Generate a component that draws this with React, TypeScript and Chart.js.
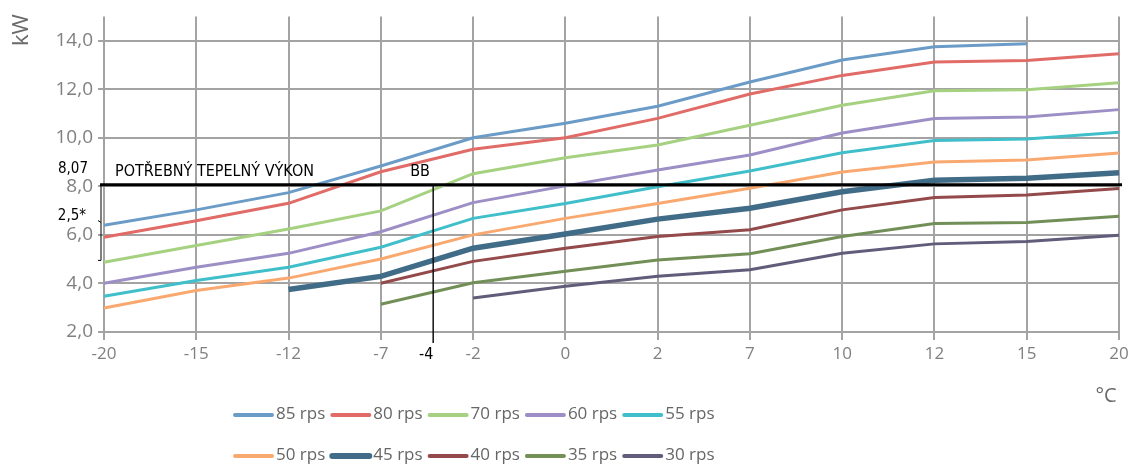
import { useEffect, useRef } from 'react';
import { Chart, registerables } from 'chart.js';
Chart.register(...registerables);

const temperatures = ['-20', '-15', '-12', '-7', '-2', '0', '2', '7', '10', '12', '15', '20'];
const tempValues = [-20, -15, -12, -7, -2, 0, 2, 7, 10, 12, 15, 20];

const rps85 = [6.4, 7.03, 7.74, 8.84, 10.0, 10.6, 11.3, 12.3, 13.2, 13.75, 13.87, null];
const rps80 = [5.9, 6.58, 7.3, 8.6, 9.53, 10.0, 10.8, 11.8, 12.57, 13.12, 13.18, 13.46];
const rps70 = [4.87, 5.56, 6.24, 6.99, 8.52, 9.18, 9.7, 10.52, 11.34, 11.94, 11.98, 12.27];
const rps60 = [4.01, 4.67, 5.24, 6.13, 7.33, 8.02, 8.67, 9.29, 10.2, 10.79, 10.86, 11.16];
const rps55 = [3.47, 4.12, 4.67, 5.49, 6.68, 7.29, 7.98, 8.63, 9.38, 9.89, 9.95, 10.23];
const rps50 = [2.99, 3.71, 4.22, 5.01, 6.0, 6.68, 7.29, 7.92, 8.59, 9.0, 9.08, 9.37];
const rps45 = [null, null, 3.75, 4.29, 5.45, 6.04, 6.65, 7.1, 7.78, 8.25, 8.33, 8.56];
const rps40 = [null, null, null, 4.01, 4.91, 5.45, 5.93, 6.21, 7.03, 7.54, 7.64, 7.91];
const rps35 = [null, null, null, 3.14, 4.03, 4.5, 4.97, 5.22, 5.93, 6.47, 6.51, 6.77];
const rps30 = [null, null, null, null, 3.4, 3.88, 4.3, 4.56, 5.24, 5.63, 5.73, 5.99];

const seriesNames = ['85 rps', '80 rps', '70 rps', '60 rps', '55 rps', '50 rps', '45 rps', '40 rps', '35 rps', '30 rps'];
const seriesData = [rps85, rps80, rps70, rps60, rps55, rps50, rps45, rps40, rps35, rps30];
const seriesColors = ['#6b9bc7', '#e06b67', '#a6d181', '#9d8fc6', '#40bfcb', '#f9a96f', '#416c87', '#94494a', '#728f58', '#615c7a'];
const seriesWidths = [3, 3, 3, 3, 3, 3, 5.5, 3, 3, 3];

const yTicks = [2, 4, 6, 8, 10, 12, 14];
const REQUIRED_KW = 8.07;
const REQUIRED_LABEL = 'POTŘEBNÝ TEPELNÝ VÝKON';
const BB_TEMP = -4;
const BRACKET_LOW = 4.95;

function bbIndex() {
  for (let i = 0; i < tempValues.length - 1; i++) {
    if (BB_TEMP >= tempValues[i] && BB_TEMP <= tempValues[i + 1]) {
      return i + (BB_TEMP - tempValues[i]) / (tempValues[i + 1] - tempValues[i]);
    }
  }
  return 0;
}

const annotPlugin = {
  id: 'annot',
  afterDatasetsDraw(chart: any) {
    const { ctx, chartArea, scales } = chart;
    const x = scales.x;
    const y = scales.y;
    ctx.save();
    const yReq = y.getPixelForValue(REQUIRED_KW);
    const xBB = x.getPixelForValue(bbIndex()) - 3;
    ctx.strokeStyle = '#111';
    ctx.lineWidth = 1.5;
    ctx.beginPath();
    ctx.moveTo(xBB, yReq);
    ctx.lineTo(xBB, chartArea.bottom + 11);
    ctx.stroke();
    ctx.strokeStyle = '#000';
    ctx.lineWidth = 3;
    ctx.beginPath();
    ctx.moveTo(chartArea.left - 4, yReq);
    ctx.lineTo(chartArea.right + 3, yReq);
    ctx.stroke();
    const yLow = y.getPixelForValue(BRACKET_LOW);
    const xb = chartArea.left - 3;
    ctx.lineWidth = 1;
    ctx.beginPath();
    ctx.moveTo(xb, yReq);
    ctx.lineTo(xb, yLow);
    ctx.lineTo(xb - 3, yLow);
    ctx.moveTo(xb, (yReq + yLow) / 2);
    ctx.lineTo(xb - 3, (yReq + yLow) / 2 - 2);
    ctx.stroke();
    ctx.fillStyle = '#000';
    ctx.textBaseline = 'middle';
    ctx.font = '16px "DejaVu Sans Condensed", "DejaVu Sans"';
    ctx.textAlign = 'left';
    ctx.fillText(REQUIRED_LABEL, chartArea.left + 11, yReq - 13);
    ctx.fillText('BB', xBB - 23, yReq - 13);
    ctx.textAlign = 'right';
    ctx.font = '15px "DejaVu Sans Condensed", "DejaVu Sans"';
    ctx.fillText(String(REQUIRED_KW).replace('.', ','), 88, yReq - 16);
    ctx.fillText('2,5*', 86, (yReq + yLow) / 2 - 6);
    ctx.textAlign = 'center';
    ctx.font = '16px "DejaVu Sans Condensed", "DejaVu Sans"';
    ctx.fillText(String(BB_TEMP), xBB - 7, chartArea.bottom + 23);
    ctx.restore();
  },
  afterDraw(chart: any) {
    const { ctx, chartArea } = chart;
    ctx.save();
    ctx.fillStyle = '#6a6a6a';
    ctx.textBaseline = 'middle';
    ctx.font = '22px "Open Sans"';
    ctx.save();
    ctx.translate(22, 30);
    ctx.rotate(-Math.PI / 2);
    ctx.textAlign = 'center';
    ctx.fillText('kW', 0, 0);
    ctx.restore();
    ctx.font = '20px "Open Sans"';
    ctx.textAlign = 'center';
    ctx.fillText('°C', chartArea.right - 13, 396);
    ctx.font = '17px "Open Sans"';
    ctx.textAlign = 'left';
    for (let i = 0; i < seriesNames.length; i++) {
      const row = Math.floor(i / 5);
      const col = i % 5;
      const x0 = 233 + col * 97.3;
      const yy = row === 0 ? 415 : 456;
      ctx.strokeStyle = seriesColors[i];
      ctx.lineWidth = i === 6 ? 6 : 4;
      ctx.lineCap = 'round';
      ctx.beginPath();
      ctx.moveTo(x0 + 2, yy);
      ctx.lineTo(x0 + 39, yy);
      ctx.stroke();
      ctx.fillStyle = '#666';
      ctx.fillText(seriesNames[i], x0 + 43, yy - 1);
    }
    ctx.restore();
  },
};

export default function App() {
  const ref = useRef<HTMLCanvasElement>(null);
  useEffect(() => {
    document.body.style.margin = '0';
    const chart = new Chart(ref.current as HTMLCanvasElement, {
      type: 'line',
      data: {
        labels: temperatures,
        datasets: seriesData.map((d, i) => ({
          label: seriesNames[i],
          data: d,
          borderColor: seriesColors[i],
          backgroundColor: seriesColors[i],
          borderWidth: seriesWidths[i],
          pointRadius: 0,
          tension: 0,
          fill: false,
        })),
      },
      options: {
        animation: false,
        responsive: false,
        maintainAspectRatio: false,
        layout: { padding: { top: 15, right: 15, left: 0, bottom: 0 } },
        plugins: { legend: { display: false }, tooltip: { enabled: false } },
        scales: {
          x: {
            type: 'category',
            offset: false,
            grid: { color: '#a3a3a3', lineWidth: 2, tickLength: 8, drawTicks: true },
            border: { display: false },
            ticks: {
              color: '#808080',
              font: { family: '"Open Sans"', size: 17 },
              padding: 4,
              maxRotation: 0,
              autoSkip: false,
            },
            afterFit: (s: any) => { s.height = 134; },
          },
          y: {
            type: 'linear',
            min: 2,
            max: 15,
            grid: { color: '#a3a3a3', lineWidth: 2, tickLength: 6 },
            border: { display: false },
            afterBuildTicks: (s: any) => { s.ticks = yTicks.map((v) => ({ value: v })); },
            ticks: {
              color: '#808080',
              font: { family: '"Open Sans"', size: 19 },
              padding: 5,
              callback: (v: any) => Number(v).toFixed(1).replace('.', ','),
            },
            afterFit: (s: any) => { s.width = 104; },
          },
        },
      },
      plugins: [annotPlugin],
    });
    return () => chart.destroy();
  }, []);
  return (
    <div style={{ position: 'fixed', left: 0, top: 0, width: 1134, height: 466, background: '#fff' }}>
      <canvas ref={ref} width={1134} height={466} style={{ width: 1134, height: 466 }} />
    </div>
  );
}
